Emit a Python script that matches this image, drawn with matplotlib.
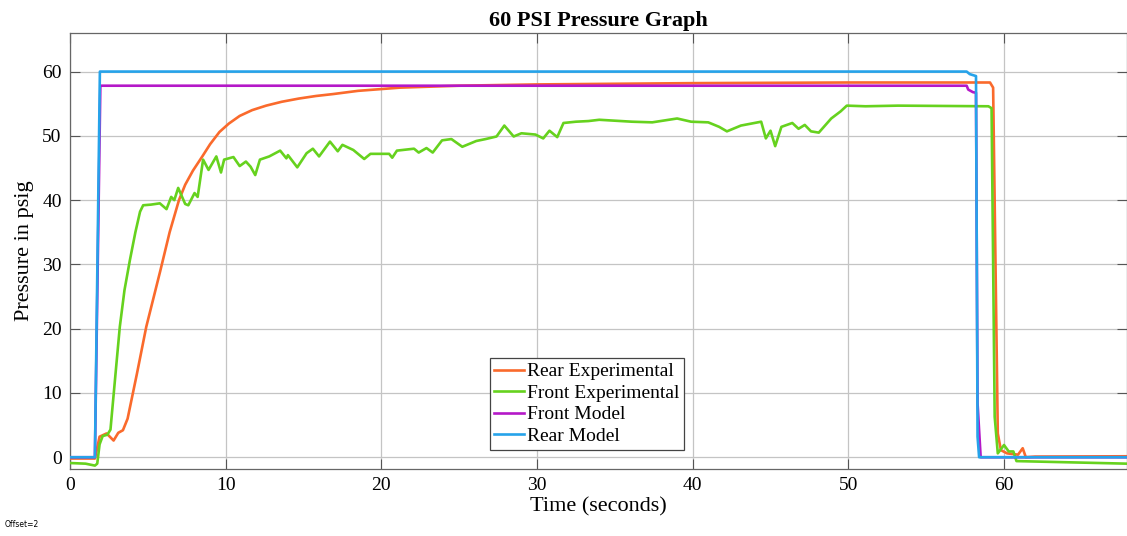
import matplotlib
matplotlib.use("Agg")
import matplotlib.pyplot as plt

# ---- data ----
rear_model_t = [0, 1.6, 1.92, 57.6, 57.8, 58.2, 58.3, 58.4, 67.9]
rear_model_p = [0, 0, 60.0, 60.0, 59.6, 59.3, 3.2, 0.0, 0.0]

front_model_t = [0, 1.6, 1.95, 57.6, 57.7, 58.0, 58.2, 58.3, 58.5, 67.9]
front_model_p = [0, 0, 57.8, 57.8, 57.2, 56.8, 56.7, 8.4, 0.0, 0.0]

rear_exp_t = [0, 1.6, 1.9, 2.35, 2.8, 3.1, 3.4, 3.7, 4.3, 4.9, 5.8, 6.4, 7.0, 7.4, 7.9,
              8.5, 9.0, 9.6, 10.2, 10.9, 11.7, 12.6, 13.6, 14.7, 15.8, 16.9, 18.5,
              21.2, 25.0, 30.0, 40.0, 50.0, 59.1, 59.3, 59.6, 59.8, 60.2, 60.9, 61.2,
              61.4, 62.0, 67.9]
rear_exp_p = [-0.2, -0.2, 3.2, 3.7, 2.6, 3.8, 4.2, 6.0, 13.0, 20.3, 29.0, 35.0, 40.0, 42.4, 44.6,
              46.8, 48.7, 50.6, 51.9, 53.1, 54.0, 54.7, 55.3, 55.8, 56.2, 56.5, 57.0,
              57.5, 57.8, 58.0, 58.2, 58.3, 58.3, 57.5, 3.7, 1.1, 0.6, 0.4, 1.4,
              0.0, 0.1, 0.15]

front_exp_t = [0, 1.0, 1.6, 1.75, 1.9, 2.1, 2.4, 2.6, 2.7, 3.0, 3.2, 3.5, 3.85, 4.2, 4.5,
               4.7, 5.2, 5.77, 6.2, 6.5, 6.7, 6.95, 7.4, 7.6, 8.0, 8.2, 8.55, 8.9, 9.4,
               9.7, 9.9, 10.5, 10.9, 11.3, 11.6, 11.9, 12.2, 12.8, 13.5, 13.9, 14.0,
               14.6, 15.2, 15.6, 16.0, 16.7, 17.2, 17.5, 18.2, 18.9, 19.3, 20.5, 20.7,
               21.0, 22.1, 22.4, 22.9, 23.3, 23.9, 24.5, 25.2, 26.1, 26.7, 27.4, 27.9,
               28.5, 29.0, 29.9, 30.4, 30.8, 31.3, 31.7, 32.5, 33.3, 34.0, 36.1, 37.4,
               39.0, 39.9, 41.0, 41.7, 42.2, 43.1, 44.4, 44.7, 45.0, 45.3, 45.7, 46.4,
               46.8, 47.2, 47.6, 48.1, 48.9, 49.5, 49.9, 51.1, 53.2, 59.0, 59.2, 59.4,
               59.6, 60.0, 60.3, 60.6, 60.8, 67.9]
front_exp_p = [-0.9, -1.0, -1.3, -1.0, 2.0, 3.3, 3.5, 4.3, 7.0, 15.0, 20.3, 26.0, 30.7, 35.0, 38.2,
               39.2, 39.3, 39.5, 38.6, 40.5, 40.0, 41.9, 39.4, 39.2, 41.1, 40.5, 46.3, 44.7, 46.8,
               44.3, 46.3, 46.7, 45.3, 46.0, 45.2, 43.9, 46.3, 46.8, 47.7, 46.5, 47.0,
               45.1, 47.3, 48.0, 46.8, 49.1, 47.6, 48.6, 47.8, 46.4, 47.2, 47.2, 46.6,
               47.7, 48.0, 47.4, 48.1, 47.4, 49.3, 49.5, 48.3, 49.2, 49.5, 49.9, 51.6,
               49.9, 50.4, 50.2, 49.6, 50.8, 49.8, 52.0, 52.2, 52.3, 52.5, 52.2, 52.1,
               52.7, 52.2, 52.1, 51.4, 50.7, 51.6, 52.2, 49.6, 50.8, 48.4, 51.4, 52.0,
               51.1, 51.7, 50.7, 50.5, 52.7, 53.8, 54.7, 54.6, 54.7, 54.6, 54.3, 6.3,
               0.6, 1.9, 0.9, 0.9, -0.6, -1.0]

x_ticks = [0, 10, 20, 30, 40, 50, 60]
y_ticks = [0, 10, 20, 30, 40, 50, 60]

series_labels = ["Rear Experimental", "Front Experimental", "Front Model", "Rear Model"]
series_colors = ["#FA6A2C", "#66D21E", "#B418C8", "#26A3EA"]

# ---- plot ----
plt.rcParams['font.family'] = ['Liberation Serif', 'DejaVu Serif']
fig = plt.figure(figsize=(11.27, 5.36), dpi=100)
ax = fig.add_axes([70 / 1127, 1 - 469 / 536, 1 - 70 / 1127, (469 - 33) / 536])

lw = 1.9
l1, = ax.plot(rear_exp_t, rear_exp_p, color=series_colors[0], lw=lw, zorder=3)
l2, = ax.plot(front_exp_t, front_exp_p, color=series_colors[1], lw=lw, zorder=3)
l3, = ax.plot(front_model_t, front_model_p, color=series_colors[2], lw=lw, zorder=4)
l4, = ax.plot(rear_model_t, rear_model_p, color=series_colors[3], lw=lw, zorder=5)

ax.set_xlim(0, 67.9)
ax.set_ylim(-1.83, 66.0)
ax.set_xticks(x_ticks)
ax.set_yticks(y_ticks)
ax.grid(True, color="#c4c4c4", lw=0.9)
ax.set_axisbelow(True)
ax.tick_params(direction='in', length=7, width=0.8, color="#555555",
               labelsize=14, top=True, right=True, pad=6)
for s in ax.spines.values():
    s.set_color("#666666")
    s.set_linewidth(0.9)

ax.set_title("60 PSI Pressure Graph", fontsize=16, fontweight='bold', pad=5)
ax.set_xlabel("Time (seconds)", fontsize=16, labelpad=2)
ax.set_ylabel("Pressure in psig", fontsize=16, labelpad=6)

leg = ax.legend([l1, l2, l3, l4], series_labels, loc='lower left',
                bbox_to_anchor=(0.397, 0.044), borderaxespad=0, fontsize=14,
                handlelength=1.5, handletextpad=0.15, labelspacing=0.2,
                borderpad=0.25, fancybox=False, framealpha=1, edgecolor="#444444")
leg.get_frame().set_linewidth(0.9)

fig.text(5 / 1127, 1 - 527 / 536, "Offset=2", fontsize=5.5, family='DejaVu Sans')

fig.savefig("out.png", dpi=100)
